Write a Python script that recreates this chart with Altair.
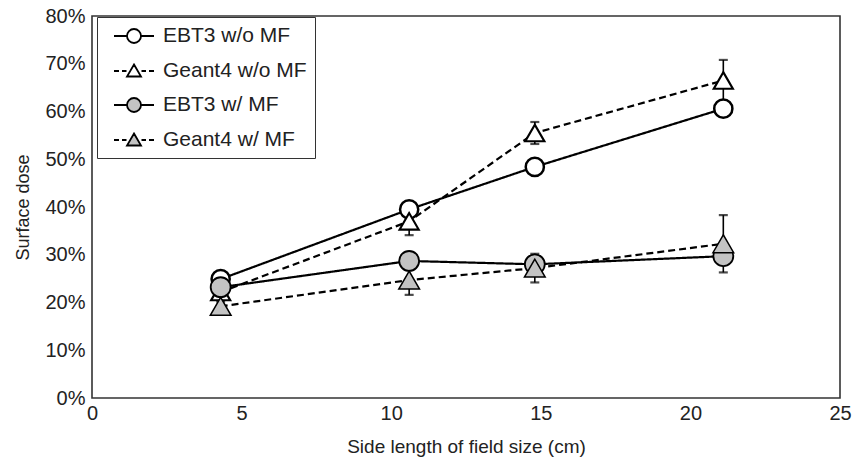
import altair as alt
import pandas as pd

series = ["EBT3 w/o MF", "Geant4 w/o MF", "EBT3 w/ MF", "Geant4 w/ MF"]
field_size = [4.3, 10.6, 14.8, 21.1]
ebt3_no_mf = [24.9, 39.5, 48.4, 60.6]
geant4_no_mf = [22.2, 37.0, 55.5, 66.5]
geant4_no_mf_err = [1.0, 2.9, 2.3, 4.3]
ebt3_mf = [23.2, 28.7, 28.0, 29.7]
geant4_mf = [19.2, 24.7, 27.2, 32.3]
geant4_mf_err = [1.0, 3.1, 3.0, 6.0]

rows = []
for name, vals, errs in [
    (series[0], ebt3_no_mf, None),
    (series[1], geant4_no_mf, geant4_no_mf_err),
    (series[2], ebt3_mf, None),
    (series[3], geant4_mf, geant4_mf_err),
]:
    for i, (x, v) in enumerate(zip(field_size, vals)):
        r = {"series": name, "x": x, "y": v, "order": series.index(name)}
        if errs is not None:
            r["lo"] = v - errs[i]
            r["hi"] = v + errs[i]
        rows.append(r)
df = pd.DataFrame(rows)

FONT = "Liberation Sans"
GREY = "#c3c3c3"
fills = ["white", "white", GREY, GREY]

xscale = alt.Scale(domain=[0, 25], nice=False, padding=0, zero=False)
yscale = alt.Scale(domain=[0, 80], nice=False, padding=0, zero=False)

xenc = alt.X("x:Q", scale=xscale,
             axis=alt.Axis(values=[0, 5, 10, 15, 20, 25], title="Side length of field size (cm)",
                           labelPadding=5, titlePadding=14, labelFlush=False))
yenc = alt.Y("y:Q", scale=yscale,
             axis=alt.Axis(values=[0, 10, 20, 30, 40, 50, 60, 70, 80], labelExpr="datum.value + '%'",
                           title="Surface dose", titleFontSize=18, labelPadding=7, titlePadding=12,
                           labelFlush=False))

base = alt.Chart(df)

lines = base.mark_line(color="black", strokeWidth=2.2).encode(
    x=xenc, y=yenc,
    strokeDash=alt.StrokeDash("series:N", scale=alt.Scale(domain=series, range=[[1, 0], [7, 4], [1, 0], [7, 4]]), legend=None),
    order="x:Q",
)

err = base.transform_filter("isValid(datum.lo)")
rules = err.mark_rule(color="black", strokeWidth=1.6).encode(
    x=alt.X("x:Q", scale=xscale), y=alt.Y("lo:Q", scale=yscale), y2="hi:Q")
cap_lo = err.mark_tick(color="black", orient="horizontal", size=9, thickness=2.2).encode(
    x=alt.X("x:Q", scale=xscale), y=alt.Y("lo:Q", scale=yscale))
cap_hi = err.mark_tick(color="black", orient="horizontal", size=9, thickness=2.2).encode(
    x=alt.X("x:Q", scale=xscale), y=alt.Y("hi:Q", scale=yscale))

points = base.mark_point(filled=True, stroke="black", opacity=1).encode(
    x=alt.X("x:Q", scale=xscale), y=alt.Y("y:Q", scale=yscale),
    shape=alt.Shape("series:N", scale=alt.Scale(domain=series, range=["circle", "triangle-up", "circle", "triangle-up"]), legend=None),
    fill=alt.Fill("series:N", scale=alt.Scale(domain=series, range=fills), legend=None),
    size=alt.Size("series:N", scale=alt.Scale(domain=series, range=[330, 430, 330, 430]), legend=None),
    strokeWidth=alt.StrokeWidth("series:N", scale=alt.Scale(domain=series, range=[2.5, 1.5, 2.5, 1.5]), legend=None),
    order="order:Q",
)

solid_circle = "M-0.2,0L1.1,0M2.5,0L3.8,0M1.1,0A0.7,0.7,0,1,1,2.5,0A0.7,0.7,0,1,1,1.1,0Z"
dash_tri = ("M-0.2,0L0.3,0M0.6,0L1.05,0M2.55,0L3.0,0M3.3,0L3.8,0"
            "M1.8,-0.65L2.5,0.55L1.1,0.55Z")
legend_paths = [solid_circle, dash_tri, solid_circle, dash_tri]

leg = alt.Legend(title=None, orient="none", legendX=5, legendY=1, symbolSize=400,
                 symbolStrokeColor="black", symbolStrokeWidth=1.8, labelFontSize=21,
                 labelFont=FONT, labelOffset=36, rowPadding=13, padding=8,
                 strokeColor="#333", fillColor="white", labelColor="#222")

legend_layer = alt.Chart(df).transform_filter("false").mark_point(filled=True, strokeWidth=1.8, opacity=1).encode(
    x=alt.X("x:Q", scale=xscale), y=alt.Y("y:Q", scale=yscale),
    shape=alt.Shape("series:N", scale=alt.Scale(domain=series, range=legend_paths), legend=leg),
    fill=alt.Fill("series:N", scale=alt.Scale(domain=series, range=fills), legend=leg),
    stroke=alt.Stroke("series:N", scale=alt.Scale(domain=series, range=["black"] * 4), legend=leg),
)

chart = alt.layer(lines, rules, cap_lo, cap_hi, points, legend_layer).resolve_scale(
    shape="independent", fill="independent", stroke="independent"
).properties(
    width=748, height=382,
    autosize=alt.AutoSizeParams(type="none"),
    padding={"left": 92, "top": 16, "right": 20, "bottom": 69},
).configure_view(
    stroke="#333", strokeWidth=1.6
).configure_axis(
    grid=False, ticks=False, domain=False, labelFont=FONT, titleFont=FONT,
    labelFontSize=20, titleFontSize=19, labelColor="#222", titleColor="#222", titleFontWeight="normal"
)

chart.save("out.html", embed_options={"renderer": "svg", "actions": False})
